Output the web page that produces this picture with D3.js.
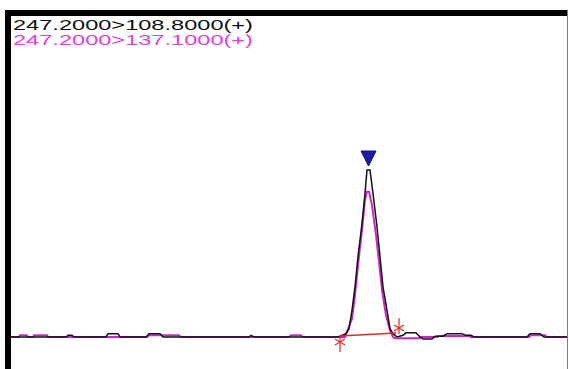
<!DOCTYPE html>
<html>
<head>
<meta charset="utf-8">
<script src="https://cdn.jsdelivr.net/npm/d3@7"></script>
<style>
  html, body { margin: 0; padding: 0; background: #fff; }
  svg { display: block; }
</style>
</head>
<body>
<svg id="chrom"></svg>
<script>
// transition labels
const transitions = ["247.2000>108.8000(+)", "247.2000>137.1000(+)"];

// black trace (108.8): scan, intensity (% of peak)
const blackScans = [0, 27.5, 28.5, 30.5, 31.5, 47.5, 48.5, 53.5, 54.5, 67.5, 69, 74.5, 76, 119, 120, 121.5,
  163.5, 167.5, 169, 170.5, 172, 173.5, 175.5, 177, 178, 179.5, 181, 183, 184.5, 186, 188, 189.5, 191, 193,
  196, 197.5, 202.5, 204.5, 206, 210.5, 212, 216, 218, 225.5, 227.5, 230, 231.5, 258, 259.5, 264.5, 266.5, 278];
const blackValues = [0, 0, 1, 1, 0, 0, 2, 2, 0, 0, 2, 2, 0, 0, 1, 0,
  0, 2, 5, 16, 30, 48, 68, 86, 100, 100, 86, 66, 48, 30, 16, 5, 2, 0,
  1, 2.5, 2.5, 0, -1.2, -1.2, 0.5, 0.5, 2, 2, 1, 1, 0, 0, 2, 2, 0, 0];

// magenta trace (137.1)
const pinkScans = [0, 4, 4.5, 8, 8.5, 11, 11.5, 18, 18.5, 68, 69, 84, 85, 139, 140, 145, 146,
  167, 170.5, 172, 173.5, 175.5, 177, 178, 179, 180.5, 182.5, 184, 185.5, 187.5, 189.5, 191, 192, 204, 205,
  213, 214, 229, 230, 259, 260, 267, 268, 278];
const pinkValues = [0, 0, 1, 1, 0, 0, 1, 1, 0, 0, 1, 1, 0, 0, 1, 1, 0,
  0, 11, 25, 43, 64, 82, 87, 87, 79, 61, 45, 28, 13, 4, 0, -0.8, -0.8, 0,
  0, 0.6, 0.6, 0, 0, 1, 1, 0, 0];

// integration baseline (start, end) and apex marker
const baseScans = [164.5, 192.5];
const baseValues = [0.6, 2.4];
const apexScan = 178.75;
const apexValue = 100;

const width = 569, height = 369;
const svg = d3.select("svg#chrom").attr("width", width).attr("height", height);

const x = d3.scaleLinear().domain([0, 278]).range([11, 567]);
const y = d3.scaleLinear().domain([0, 100]).range([337, 170]);

// frame
svg.append("rect").attr("x", 5).attr("y", 10).attr("width", 563).attr("height", 6).attr("fill", "#000");
svg.append("rect").attr("x", 5).attr("y", 10).attr("width", 6).attr("height", 359).attr("fill", "#000");
svg.append("line").attr("x1", 567.5).attr("x2", 567.5).attr("y1", 10).attr("y2", 369)
  .attr("stroke", "#808080").attr("stroke-width", 1);

const line = d3.line().x(d => x(d[0])).y(d => y(d[1]));

svg.append("path")
  .datum(d3.zip(pinkScans, pinkValues))
  .attr("d", line)
  .attr("fill", "none")
  .attr("stroke", "#c828c8")
  .attr("stroke-width", 2);

svg.append("path")
  .datum(d3.zip(blackScans, blackValues))
  .attr("d", line)
  .attr("fill", "none")
  .attr("stroke", "#111")
  .attr("stroke-width", 1.5);

// integration baseline
svg.append("path")
  .datum(d3.zip(baseScans, baseValues))
  .attr("d", line)
  .attr("fill", "none")
  .attr("stroke", "#e02828")
  .attr("stroke-width", 1.5);

// start/end markers
function marker(cx, cy, dir) {
  const g = svg.append("g").attr("stroke", "#e02828").attr("stroke-width", 1.2).attr("fill", "none");
  g.append("line").attr("x1", cx).attr("x2", cx).attr("y1", cy).attr("y2", cy + dir * 16);
  g.append("line").attr("x1", cx - 5).attr("x2", cx + 5).attr("y1", cy + dir * 3).attr("y2", cy + dir * 9);
  g.append("line").attr("x1", cx + 5).attr("x2", cx - 5).attr("y1", cy + dir * 3).attr("y2", cy + dir * 9);
}
marker(x(baseScans[0]), y(baseValues[0]), 1);
marker(x(baseScans[1]) + 3, y(baseValues[1]) + 1, -1);

// apex triangle
const ax = x(apexScan), ay = y(apexValue) - 4;
svg.append("path")
  .attr("d", `M${ax - 7.5},${ay - 15}L${ax + 7.5},${ay - 15}L${ax},${ay}Z`)
  .attr("fill", "#1c1ca8")
  .attr("stroke", "#101070")
  .attr("stroke-width", 1);

// labels
const labelColors = ["#111", "#e040e0"];
svg.selectAll("text.lbl")
  .data(transitions)
  .enter()
  .append("text")
  .attr("class", "lbl")
  .attr("x", 13)
  .attr("y", (d, i) => 30 + i * 15)
  .attr("textLength", 240)
  .attr("lengthAdjust", "spacingAndGlyphs")
  .attr("fill", (d, i) => labelColors[i])
  .style("font-family", "'Liberation Sans', Arial, sans-serif")
  .style("font-size", "14.5px")
  .text(d => d);
</script>
</body>
</html>
